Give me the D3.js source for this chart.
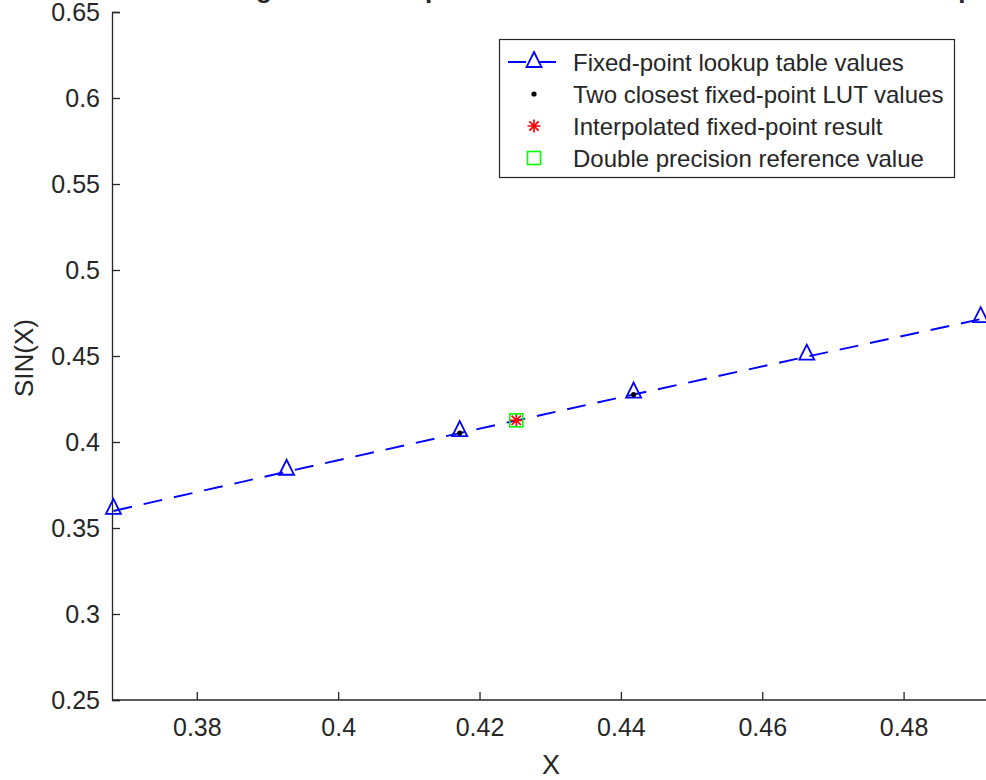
<!DOCTYPE html>
<html>
<head>
<meta charset="utf-8">
<script src="https://cdn.jsdelivr.net/npm/d3@7"></script>
<style>
  html, body { margin: 0; padding: 0; background: #ffffff; }
  svg { display: block; }
  text { font-family: "Liberation Sans", Arial, Helvetica, sans-serif; fill: #262626; }
</style>
</head>
<body>
<div id="chart"></div>
<script>
// ---- data ----
const lutX = [0.3682, 0.3927, 0.4172, 0.4418, 0.4663, 0.4909];
const lutY = [0.3599, 0.3827, 0.4052, 0.4276, 0.4496, 0.4714];
const closestX = [0.4172, 0.4418];
const closestY = [0.4052, 0.4276];
const interpX = [0.4252];
const interpY = [0.4126];
const refX = [0.4252];
const refY = [0.4126];
const xTicks = [0.38, 0.40, 0.42, 0.44, 0.46, 0.48];
const yTicks = [0.25, 0.30, 0.35, 0.40, 0.45, 0.50, 0.55, 0.60, 0.65];
const legendLabels = [
  "Fixed-point lookup table values",
  "Two closest fixed-point LUT values",
  "Interpolated fixed-point result",
  "Double precision reference value"
];
const titleText = "Zooming In on Fixed-point Result and Reference Value vs Lookup";
const xLabel = "X";
const yLabel = "SIN(X)";

// ---- layout ----
const W = 986, H = 780;
const mLeft = 112, mTop = 12, mBottom = 700, mRight = 987;
const axisColor = "#262626";

const svg = d3.select("#chart").append("svg").attr("width", W).attr("height", H);

const x = d3.scaleLinear().domain([0.368, 0.4918]).range([mLeft, mRight]);
const y = d3.scaleLinear().domain([0.25, 0.65]).range([mBottom, mTop]);

// title (clipped at the top edge, as in the reference)
const title = svg.append("text")
  .attr("x", 162).attr("y", -2)
  .attr("font-size", 26).attr("font-weight", "bold")
  .text(titleText);
// align the first descender ('g') with the reference
try {
  const gi = titleText.indexOf("g");
  const px = title.node().getStartPositionOfChar(gi).x;
  const cw = title.node().getExtentOfChar(gi).width;
  title.attr("x", 162 + (264 - (px + cw / 2)));
} catch (e) {}

// axes
const fmt = d => String(+d.toFixed(2));
const xAxis = d3.axisBottom(x).tickValues(xTicks).tickSize(-8).tickPadding(18).tickFormat(fmt);
const yAxis = d3.axisLeft(y).tickValues(yTicks).tickSize(-8).tickPadding(12).tickFormat(fmt);

const gx = svg.append("g").attr("transform", `translate(0,${mBottom})`).call(xAxis);
const gy = svg.append("g").attr("transform", `translate(${mLeft},0)`).call(yAxis);
[gx, gy].forEach(g => {
  g.select(".domain").attr("stroke", axisColor).attr("stroke-width", 1.3);
  g.selectAll(".tick line").attr("stroke", axisColor).attr("stroke-width", 1.3);
  g.selectAll(".tick text").attr("fill", axisColor).attr("font-size", 25)
    .attr("font-family", "Liberation Sans, Arial, sans-serif");
});
gx.select(".domain").attr("d", `M${mLeft},0H${W}`);

// axis labels
svg.append("text").attr("x", (mLeft + W) / 2 + 2).attr("y", 774)
  .attr("text-anchor", "middle").attr("font-size", 27).text(xLabel);
svg.append("text").attr("transform", `translate(33,${(mTop + mBottom) / 2 + 2}) rotate(-90)`)
  .attr("text-anchor", "middle").attr("font-size", 26).text(yLabel);

// marker helpers
const blue = "#0000ff", red = "#ff0000", green = "#00ff00";
function triangle(g, cx, cy) {
  g.append("path")
    .attr("d", `M${cx},${cy - 12}L${cx + 7.5},${cy + 3}L${cx - 7.5},${cy + 3}Z`)
    .attr("fill", "none").attr("stroke", blue).attr("stroke-width", 1.8)
    .attr("stroke-linejoin", "miter");
}
function star(g, cx, cy) {
  const r = 6.5, d = r * 0.72;
  g.append("path")
    .attr("d", `M${cx - r},${cy}H${cx + r}M${cx},${cy - r}V${cy + r}M${cx - d},${cy - d}L${cx + d},${cy + d}M${cx - d},${cy + d}L${cx + d},${cy - d}`)
    .attr("stroke", red).attr("stroke-width", 1.7).attr("fill", "none");
}
function square(g, cx, cy) {
  g.append("rect").attr("x", cx - 6.5).attr("y", cy - 6.5).attr("width", 13).attr("height", 13)
    .attr("fill", "none").attr("stroke", green).attr("stroke-width", 1.6);
}
function dot(g, cx, cy) {
  g.append("circle").attr("cx", cx).attr("cy", cy).attr("r", 2.6).attr("fill", "#000000");
}

const plot = svg.append("g");
const lutData = lutX.map((v, i) => [v, lutY[i]]);
const line = d3.line().x(d => x(d[0])).y(d => y(d[1]));
plot.append("path").datum(lutData).attr("d", line)
  .attr("fill", "none").attr("stroke", blue).attr("stroke-width", 1.9)
  .attr("stroke-dasharray", "19,12");
lutData.forEach(d => triangle(plot, x(d[0]), y(d[1])));
closestX.forEach((v, i) => dot(plot, x(v), y(closestY[i])));
interpX.forEach((v, i) => star(plot, x(v), y(interpY[i])));
refX.forEach((v, i) => square(plot, x(v), y(refY[i])));

// legend
const lg = svg.append("g");
lg.append("rect").attr("x", 499.5).attr("y", 39.5).attr("width", 455).attr("height", 138)
  .attr("fill", "#ffffff").attr("stroke", axisColor).attr("stroke-width", 1.2);
const rowY = i => 62 + i * 32;
legendLabels.forEach((t, i) => {
  lg.append("text").attr("x", 573).attr("y", rowY(i) + 8.5).attr("font-size", 24).text(t);
});
lg.append("line").attr("x1", 508).attr("x2", 560).attr("y1", rowY(0)).attr("y2", rowY(0))
  .attr("stroke", blue).attr("stroke-width", 1.9).attr("stroke-dasharray", "18,12");
triangle(lg, 534, rowY(0) + 2);
dot(lg, 534, rowY(1));
star(lg, 534, rowY(2));
square(lg, 534, rowY(3));
</script>
</body>
</html>
